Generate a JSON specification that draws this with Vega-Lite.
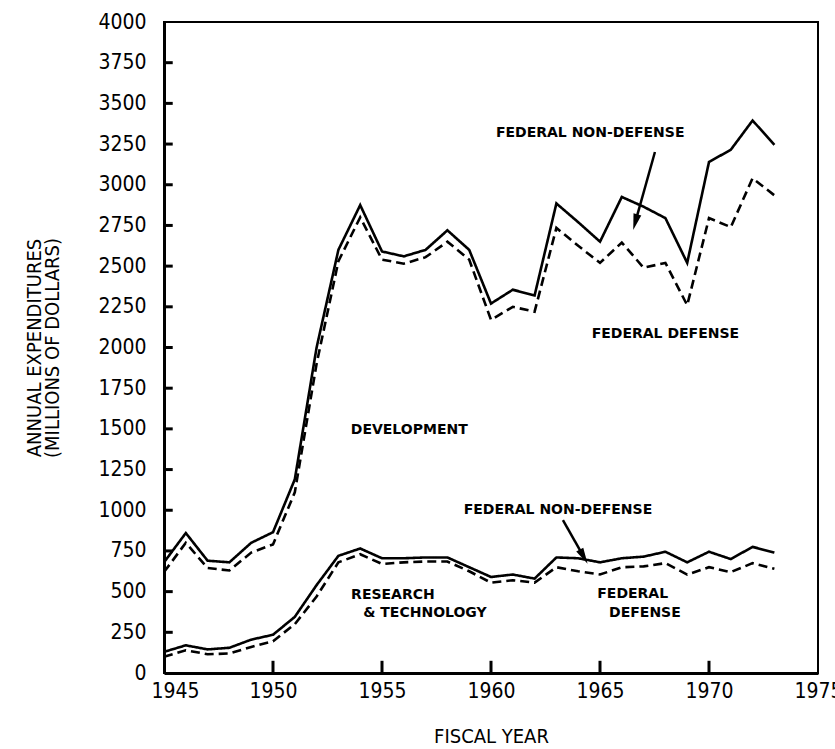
{
  "$schema": "https://vega.github.io/schema/vega-lite/v6.json",
  "autosize": {"type": "none"},
  "width": 654,
  "height": 651,
  "padding": {"left": 164, "top": 22, "right": 17, "bottom": 76},
  "background": "white",
  "config": {
    "view": {"stroke": "black", "strokeWidth": 2},
    "font": "DejaVu Sans Condensed, DejaVu Sans",
    "axis": {
      "domainColor": "black", "domainWidth": 3, "ticks": false,
      "grid": false, "labelColor": "black", "titleColor": "black",
      "labelFont": "DejaVu Sans Condensed, DejaVu Sans", "titleFont": "DejaVu Sans Condensed, DejaVu Sans",
      "labelFontSize": 21, "titleFontSize": 20, "titleFontWeight": "normal"
    }
  },
  "datasets": {
    "series": [
      {"year": 1945, "value": 680, "group": "Development", "series": "Total"},
      {"year": 1946, "value": 860, "group": "Development", "series": "Total"},
      {"year": 1947, "value": 690, "group": "Development", "series": "Total"},
      {"year": 1948, "value": 680, "group": "Development", "series": "Total"},
      {"year": 1949, "value": 800, "group": "Development", "series": "Total"},
      {"year": 1950, "value": 865, "group": "Development", "series": "Total"},
      {"year": 1951, "value": 1190, "group": "Development", "series": "Total"},
      {"year": 1952, "value": 2000, "group": "Development", "series": "Total"},
      {"year": 1953, "value": 2600, "group": "Development", "series": "Total"},
      {"year": 1954, "value": 2875, "group": "Development", "series": "Total"},
      {"year": 1955, "value": 2590, "group": "Development", "series": "Total"},
      {"year": 1956, "value": 2560, "group": "Development", "series": "Total"},
      {"year": 1957, "value": 2600, "group": "Development", "series": "Total"},
      {"year": 1958, "value": 2720, "group": "Development", "series": "Total"},
      {"year": 1959, "value": 2600, "group": "Development", "series": "Total"},
      {"year": 1960, "value": 2270, "group": "Development", "series": "Total"},
      {"year": 1961, "value": 2355, "group": "Development", "series": "Total"},
      {"year": 1962, "value": 2320, "group": "Development", "series": "Total"},
      {"year": 1963, "value": 2885, "group": "Development", "series": "Total"},
      {"year": 1964, "value": 2770, "group": "Development", "series": "Total"},
      {"year": 1965, "value": 2650, "group": "Development", "series": "Total"},
      {"year": 1966, "value": 2925, "group": "Development", "series": "Total"},
      {"year": 1967, "value": 2865, "group": "Development", "series": "Total"},
      {"year": 1968, "value": 2795, "group": "Development", "series": "Total"},
      {"year": 1969, "value": 2520, "group": "Development", "series": "Total"},
      {"year": 1970, "value": 3140, "group": "Development", "series": "Total"},
      {"year": 1971, "value": 3215, "group": "Development", "series": "Total"},
      {"year": 1972, "value": 3395, "group": "Development", "series": "Total"},
      {"year": 1973, "value": 3245, "group": "Development", "series": "Total"},
      {"year": 1945, "value": 620, "group": "Development", "series": "Defense"},
      {"year": 1946, "value": 800, "group": "Development", "series": "Defense"},
      {"year": 1947, "value": 645, "group": "Development", "series": "Defense"},
      {"year": 1948, "value": 630, "group": "Development", "series": "Defense"},
      {"year": 1949, "value": 740, "group": "Development", "series": "Defense"},
      {"year": 1950, "value": 790, "group": "Development", "series": "Defense"},
      {"year": 1951, "value": 1110, "group": "Development", "series": "Defense"},
      {"year": 1952, "value": 1900, "group": "Development", "series": "Defense"},
      {"year": 1953, "value": 2530, "group": "Development", "series": "Defense"},
      {"year": 1954, "value": 2800, "group": "Development", "series": "Defense"},
      {"year": 1955, "value": 2540, "group": "Development", "series": "Defense"},
      {"year": 1956, "value": 2515, "group": "Development", "series": "Defense"},
      {"year": 1957, "value": 2555, "group": "Development", "series": "Defense"},
      {"year": 1958, "value": 2650, "group": "Development", "series": "Defense"},
      {"year": 1959, "value": 2540, "group": "Development", "series": "Defense"},
      {"year": 1960, "value": 2170, "group": "Development", "series": "Defense"},
      {"year": 1961, "value": 2250, "group": "Development", "series": "Defense"},
      {"year": 1962, "value": 2220, "group": "Development", "series": "Defense"},
      {"year": 1963, "value": 2735, "group": "Development", "series": "Defense"},
      {"year": 1964, "value": 2625, "group": "Development", "series": "Defense"},
      {"year": 1965, "value": 2520, "group": "Development", "series": "Defense"},
      {"year": 1966, "value": 2645, "group": "Development", "series": "Defense"},
      {"year": 1967, "value": 2490, "group": "Development", "series": "Defense"},
      {"year": 1968, "value": 2520, "group": "Development", "series": "Defense"},
      {"year": 1969, "value": 2260, "group": "Development", "series": "Defense"},
      {"year": 1970, "value": 2795, "group": "Development", "series": "Defense"},
      {"year": 1971, "value": 2740, "group": "Development", "series": "Defense"},
      {"year": 1972, "value": 3040, "group": "Development", "series": "Defense"},
      {"year": 1973, "value": 2935, "group": "Development", "series": "Defense"},
      {"year": 1945, "value": 130, "group": "Research", "series": "Total"},
      {"year": 1946, "value": 170, "group": "Research", "series": "Total"},
      {"year": 1947, "value": 145, "group": "Research", "series": "Total"},
      {"year": 1948, "value": 155, "group": "Research", "series": "Total"},
      {"year": 1949, "value": 205, "group": "Research", "series": "Total"},
      {"year": 1950, "value": 235, "group": "Research", "series": "Total"},
      {"year": 1951, "value": 345, "group": "Research", "series": "Total"},
      {"year": 1952, "value": 540, "group": "Research", "series": "Total"},
      {"year": 1953, "value": 720, "group": "Research", "series": "Total"},
      {"year": 1954, "value": 765, "group": "Research", "series": "Total"},
      {"year": 1955, "value": 705, "group": "Research", "series": "Total"},
      {"year": 1956, "value": 705, "group": "Research", "series": "Total"},
      {"year": 1957, "value": 710, "group": "Research", "series": "Total"},
      {"year": 1958, "value": 710, "group": "Research", "series": "Total"},
      {"year": 1959, "value": 650, "group": "Research", "series": "Total"},
      {"year": 1960, "value": 590, "group": "Research", "series": "Total"},
      {"year": 1961, "value": 605, "group": "Research", "series": "Total"},
      {"year": 1962, "value": 580, "group": "Research", "series": "Total"},
      {"year": 1963, "value": 710, "group": "Research", "series": "Total"},
      {"year": 1964, "value": 705, "group": "Research", "series": "Total"},
      {"year": 1965, "value": 680, "group": "Research", "series": "Total"},
      {"year": 1966, "value": 705, "group": "Research", "series": "Total"},
      {"year": 1967, "value": 715, "group": "Research", "series": "Total"},
      {"year": 1968, "value": 745, "group": "Research", "series": "Total"},
      {"year": 1969, "value": 680, "group": "Research", "series": "Total"},
      {"year": 1970, "value": 745, "group": "Research", "series": "Total"},
      {"year": 1971, "value": 700, "group": "Research", "series": "Total"},
      {"year": 1972, "value": 775, "group": "Research", "series": "Total"},
      {"year": 1973, "value": 740, "group": "Research", "series": "Total"},
      {"year": 1945, "value": 100, "group": "Research", "series": "Defense"},
      {"year": 1946, "value": 140, "group": "Research", "series": "Defense"},
      {"year": 1947, "value": 115, "group": "Research", "series": "Defense"},
      {"year": 1948, "value": 120, "group": "Research", "series": "Defense"},
      {"year": 1949, "value": 160, "group": "Research", "series": "Defense"},
      {"year": 1950, "value": 195, "group": "Research", "series": "Defense"},
      {"year": 1951, "value": 300, "group": "Research", "series": "Defense"},
      {"year": 1952, "value": 470, "group": "Research", "series": "Defense"},
      {"year": 1953, "value": 680, "group": "Research", "series": "Defense"},
      {"year": 1954, "value": 730, "group": "Research", "series": "Defense"},
      {"year": 1955, "value": 670, "group": "Research", "series": "Defense"},
      {"year": 1956, "value": 680, "group": "Research", "series": "Defense"},
      {"year": 1957, "value": 685, "group": "Research", "series": "Defense"},
      {"year": 1958, "value": 685, "group": "Research", "series": "Defense"},
      {"year": 1959, "value": 625, "group": "Research", "series": "Defense"},
      {"year": 1960, "value": 555, "group": "Research", "series": "Defense"},
      {"year": 1961, "value": 570, "group": "Research", "series": "Defense"},
      {"year": 1962, "value": 555, "group": "Research", "series": "Defense"},
      {"year": 1963, "value": 650, "group": "Research", "series": "Defense"},
      {"year": 1964, "value": 625, "group": "Research", "series": "Defense"},
      {"year": 1965, "value": 605, "group": "Research", "series": "Defense"},
      {"year": 1966, "value": 650, "group": "Research", "series": "Defense"},
      {"year": 1967, "value": 655, "group": "Research", "series": "Defense"},
      {"year": 1968, "value": 675, "group": "Research", "series": "Defense"},
      {"year": 1969, "value": 605, "group": "Research", "series": "Defense"},
      {"year": 1970, "value": 650, "group": "Research", "series": "Defense"},
      {"year": 1971, "value": 620, "group": "Research", "series": "Defense"},
      {"year": 1972, "value": 675, "group": "Research", "series": "Defense"},
      {"year": 1973, "value": 640, "group": "Research", "series": "Defense"}
    ],
    "labels": [
      {"text": "FEDERAL NON-DEFENSE", "year": 1964.55, "value": 3318},
      {"text": "FEDERAL DEFENSE", "year": 1968.0, "value": 2083},
      {"text": "DEVELOPMENT", "year": 1956.25, "value": 1493},
      {"text": "FEDERAL NON-DEFENSE", "year": 1963.07, "value": 1001},
      {"text": "RESEARCH", "year": 1955.5, "value": 479},
      {"text": "& TECHNOLOGY", "year": 1956.97, "value": 369},
      {"text": "FEDERAL", "year": 1966.5, "value": 485},
      {"text": "DEFENSE", "year": 1967.06, "value": 369}
    ],
    "arrows": [
      {"year": 1967.52, "value": 3201, "year2": 1966.62, "value2": 2770, "angle": 15},
      {"year": 1963.30, "value": 940, "year2": 1964.25, "value2": 715, "angle": 331}
    ],
    "xticks": [
      {"year": 1950, "low": 0, "high": 75},
      {"year": 1955, "low": 0, "high": 75},
      {"year": 1960, "low": 0, "high": 75},
      {"year": 1965, "low": 0, "high": 75},
      {"year": 1970, "low": 0, "high": 75}
    ],
    "yticks": [
      {"value": 250, "left": 1945, "right": 1945.4},
      {"value": 500, "left": 1945, "right": 1945.4},
      {"value": 750, "left": 1945, "right": 1945.4},
      {"value": 1000, "left": 1945, "right": 1945.4},
      {"value": 1250, "left": 1945, "right": 1945.4},
      {"value": 1500, "left": 1945, "right": 1945.4},
      {"value": 1750, "left": 1945, "right": 1945.4},
      {"value": 2000, "left": 1945, "right": 1945.4},
      {"value": 2250, "left": 1945, "right": 1945.4},
      {"value": 2500, "left": 1945, "right": 1945.4},
      {"value": 2750, "left": 1945, "right": 1945.4},
      {"value": 3000, "left": 1945, "right": 1945.4},
      {"value": 3250, "left": 1945, "right": 1945.4},
      {"value": 3500, "left": 1945, "right": 1945.4},
      {"value": 3750, "left": 1945, "right": 1945.4}
    ]
  },
  "layer": [
    {
      "data": {"name": "series"},
      "mark": {"type": "line", "color": "black", "strokeWidth": 2.6},
      "encoding": {
        "x": {"field": "year", "type": "quantitative",
          "scale": {"domain": [1945, 1975], "nice": false, "zero": false},
          "axis": {"values": [1945, 1950, 1955, 1960, 1965, 1970, 1975], "format": "d",
            "title": "FISCAL YEAR", "labelPadding": 7, "titlePadding": 25, "labelFlush": false,
            "labelOffset": {"condition": {"test": "datum.value == 1945", "value": 11}, "value": 0}}},
        "y": {"field": "value", "type": "quantitative",
          "scale": {"domain": [0, 4000], "nice": false},
          "axis": {"values": [0, 250, 500, 750, 1000, 1250, 1500, 1750, 2000, 2250, 2500, 2750, 3000, 3250, 3500, 3750, 4000],
            "format": "d",
            "title": ["ANNUAL EXPENDITURES", "(MILLIONS OF DOLLARS)"], "titleLineHeight": 18, "labelPadding": 18, "titlePadding": 35, "labelFlush": false}},
        "strokeDash": {"field": "series", "type": "nominal",
          "scale": {"domain": ["Total", "Defense"], "range": [[1, 0], [9, 5]]}, "legend": null},
        "detail": {"field": "group"}
      }
    },
    {
      "data": {"name": "xticks"},
      "mark": {"type": "rule", "color": "black", "strokeWidth": 3},
      "encoding": {
        "x": {"field": "year", "type": "quantitative"},
        "y": {"field": "low", "type": "quantitative"},
        "y2": {"field": "high"}
      }
    },
    {
      "data": {"name": "yticks"},
      "mark": {"type": "rule", "color": "black", "strokeWidth": 3},
      "encoding": {
        "y": {"field": "value", "type": "quantitative"},
        "x": {"field": "left", "type": "quantitative"},
        "x2": {"field": "right"}
      }
    },
    {
      "data": {"name": "labels"},
      "mark": {"type": "text", "font": "DejaVu Sans", "fontSize": 14, "fontWeight": "bold", "color": "black", "align": "center", "baseline": "middle"},
      "encoding": {
        "x": {"field": "year", "type": "quantitative"},
        "y": {"field": "value", "type": "quantitative"},
        "text": {"field": "text"}
      }
    },
    {
      "data": {"name": "arrows"},
      "mark": {"type": "rule", "color": "black", "strokeWidth": 2.5},
      "encoding": {
        "x": {"field": "year", "type": "quantitative"},
        "y": {"field": "value", "type": "quantitative"},
        "x2": {"field": "year2"},
        "y2": {"field": "value2"}
      }
    },
    {
      "data": {"name": "arrows"},
      "mark": {"type": "point", "shape": "M-0.5,-1L0.5,-1L0,1Z", "filled": true, "color": "black", "size": 260, "opacity": 1},
      "encoding": {
        "x": {"field": "year2", "type": "quantitative"},
        "y": {"field": "value2", "type": "quantitative"},
        "angle": {"field": "angle", "type": "quantitative", "scale": null}
      }
    }
  ]
}
